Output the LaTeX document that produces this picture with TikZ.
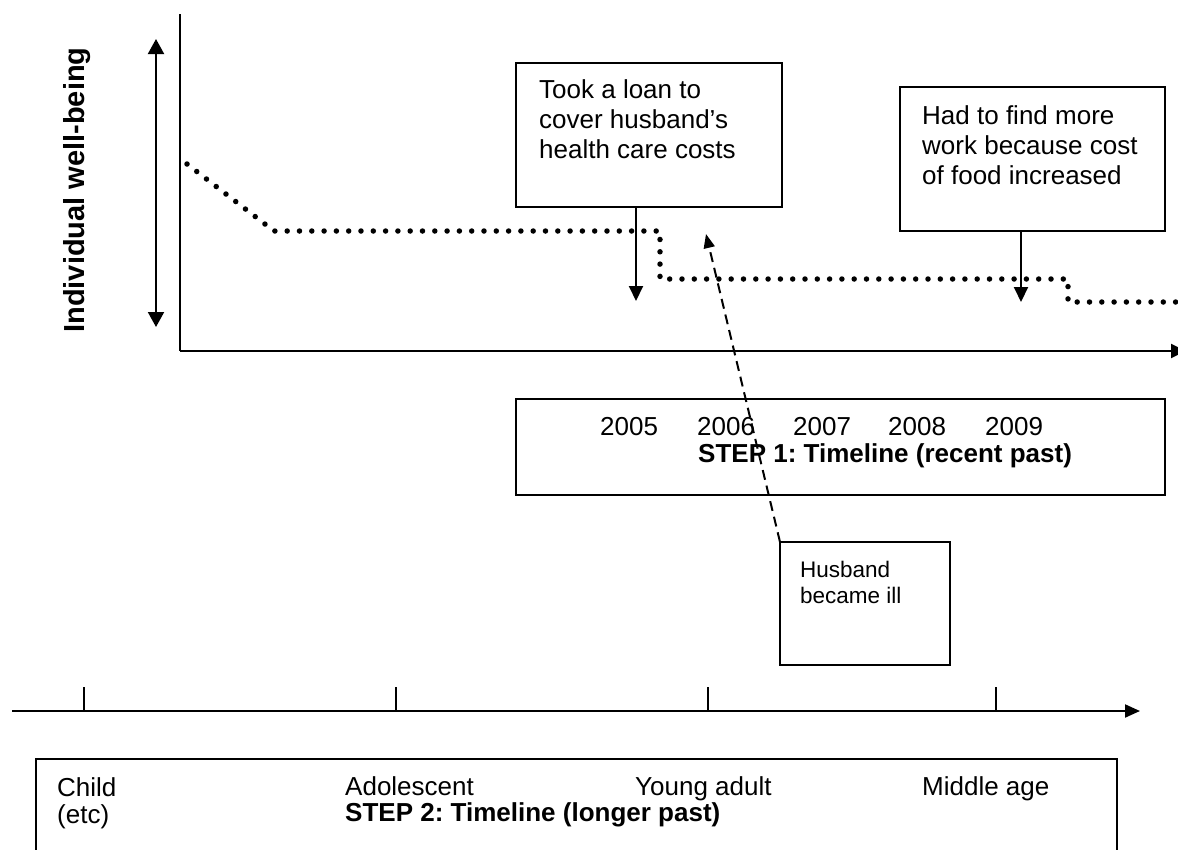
\documentclass[tikz,border=0pt]{standalone}
\usepackage{fontspec}
\setmainfont{Liberation Sans}
\usetikzlibrary{arrows.meta,calc}
\frenchspacing
\begin{document}
\begin{tikzpicture}[x=1pt,y=-1pt,
  box/.style={draw,line width=1.8pt,inner sep=0pt,outer sep=0pt,anchor=north west},
  big/.style={font=\fontsize{26}{30}\selectfont},
  bigbold/.style={font=\fontsize{26}{30}\selectfont\bfseries},
  small/.style={font=\fontsize{22.5}{26}\selectfont},
  txt/.style={inner sep=0pt,anchor=north west,align=left},
  word/.style={inner sep=0pt,anchor=base west},
  axis/.style={line width=2pt},
  tip/.style={-{Triangle[length=15pt,width=14pt]}},
  fall/.style={line width=2pt,-{Triangle[length=15pt,width=14pt]}},
  dots/.style={line width=5.5pt,line cap=round,dash pattern=on 0pt off 12.3pt},
  tick/.style={line width=1.2pt},
]
\useasboundingbox (0,0) rectangle (1178,849);

% --- well-being chart: axes ---
\coordinate (ytop) at (180,14);
\coordinate (origin) at (180,351);
\coordinate (xend) at (1186,351);
\draw[axis] (ytop) -- (origin);
\draw[axis,tip] (origin) -- (xend);

% up/down scale arrow and its label
\coordinate (scaletop) at (156,39);
\coordinate (scalebot) at (156,327);
\draw[line width=2pt,{Triangle[length=15pt,width=16pt]}-{Triangle[length=15pt,width=16pt]}] (scaletop) -- (scalebot);
\node[rotate=90,inner sep=0pt,anchor=base,font=\fontsize{29}{34}\selectfont\bfseries] (wb) at (84,190) {Individual well-being};

% well-being trajectory
\coordinate (w0) at (187,164);
\coordinate (w1) at (274,231);
\coordinate (w2) at (660,231);
\coordinate (w3) at (660,279);
\coordinate (w4) at (1068,279);
\coordinate (w5) at (1068,302);
\coordinate (w6) at (1192,302);
\draw[dots] (w0) -- (w1) -- (w2) -- (w3) -- (w4) -- (w5) -- (w6);

% --- event boxes ---
\node[box,minimum width=266pt,minimum height=144pt] (loan) at (516,63) {};
\node[txt,big] (loantxt) at (539,77) {\strut Took a loan to\\cover husband’s\\health care costs};
\coordinate (loanfall) at (636,301);
\draw[fall] (loanfall |- loan.south) -- (loanfall);

\node[box,minimum width=265pt,minimum height=144pt] (food) at (900,87) {};
\node[txt,big] (foodtxt) at (922,103) {\strut Had to find more\\work because cost\\of food increased};
\coordinate (foodfall) at (1021,302);
\draw[fall] (foodfall |- food.south) -- (foodfall);

% --- step 1 timeline ---
\node[box,minimum width=649pt,minimum height=96pt] (step1) at (516,399) {};
\node[word,big] (y2005) at (600,435) {2005};
\node[word,big] (y2006) at (697,435) {2006};
\node[word,big] (y2007) at (793,435) {2007};
\node[word,big] (y2008) at (888,435) {2008};
\node[word,big] (y2009) at (985,435) {2009};
\node[word,bigbold] (step1txt) at (698,462) {STEP 1: Timeline (recent past)};

% husband's illness and its link to the loan
\node[box,minimum width=170pt,minimum height=123pt] (ill) at (780,542) {};
\node[txt,small] (illtxt) at (800,559) {\strut Husband\\became ill};
\coordinate (illtip) at (706,234);
\draw[line width=2pt,dash pattern=on 10pt off 6pt,-{Triangle[length=14pt,width=11pt]}] (ill.north west) -- (illtip);

% --- step 2 timeline ---
\coordinate (lstart) at (12,711);
\coordinate (lend) at (1140,711);
\draw[axis,-{Triangle[length=15pt,width=13pt]}] (lstart) -- (lend);
\foreach \x/\n in {84/tc,396/ta,708/ty,996/tm} {
  \coordinate (\n) at (\x,711);
  \draw[tick] (\n) -- ++(0,-24);
}

\node[box,minimum width=1081pt,minimum height=101pt] (step2) at (36,759) {};
\node[txt,font=\fontsize{26}{26}\selectfont] (child) at (57,777) {\strut Child\\(etc)};
\node[word,big] (adol) at (345,795) {Adolescent};
\node[word,bigbold] (step2txt) at (345,821) {STEP 2: Timeline (longer past)};
\node[word,big] (young) at (635,795) {Young adult};
\node[word,big] (middle) at (922,795) {Middle age};
\end{tikzpicture}
\end{document}
